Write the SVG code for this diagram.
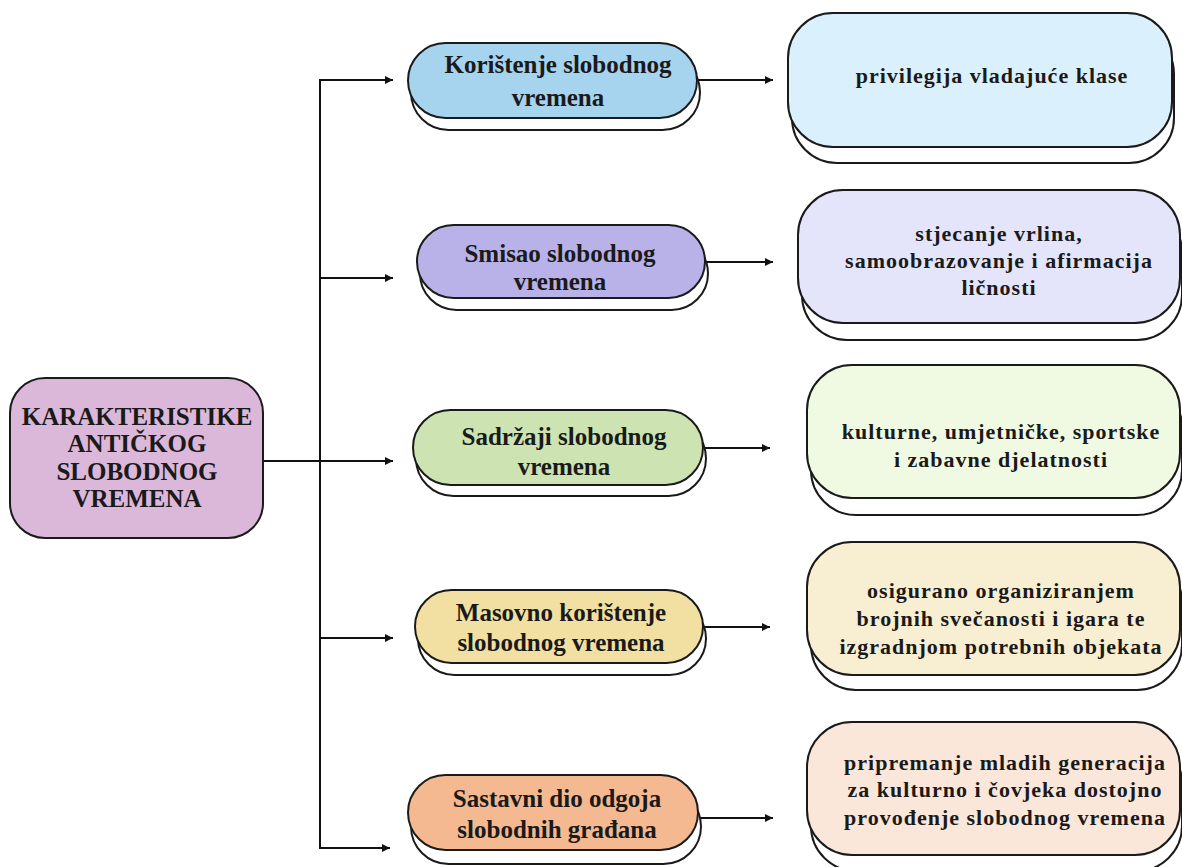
<svg xmlns="http://www.w3.org/2000/svg" width="1182" height="867" viewBox="0 0 1182 867">
<style>
  .box { stroke: #1a1a1a; stroke-width: 2; }
  .shadow { fill: #ffffff; stroke: #1a1a1a; stroke-width: 2; }
  .t { font-family: "Liberation Serif", "Times New Roman", serif; font-weight: bold; fill: #1a1a1a; text-anchor: middle; }
  .tm { font-size: 25px; }
  .tr { font-size: 22px; letter-spacing: 1px; }
  .line { stroke: #111111; stroke-width: 2; fill: none; }
  .arrow { stroke: #111111; stroke-width: 2; fill: none; marker-end: url(#arr); }
</style>
<defs>
  <marker id="arr" viewBox="0 0 10 10" refX="10" refY="5" markerWidth="9" markerHeight="8" markerUnits="userSpaceOnUse" orient="auto">
    <path d="M0,0 L10,5 L0,10 z" fill="#111111"/>
  </marker>
</defs>
<rect width="1182" height="867" fill="#ffffff"/>

<g id="connectors">
  <line class="line" x1="320" y1="80" x2="320" y2="848"/>
  <line class="arrow" x1="263" y1="461" x2="393" y2="461"/>
  <line class="arrow" x1="319" y1="80" x2="393" y2="80"/>
  <line class="arrow" x1="319" y1="278" x2="393" y2="278"/>
  <line class="arrow" x1="319" y1="638" x2="393" y2="638"/>
  <line class="arrow" x1="319" y1="848" x2="390" y2="848"/>
  <line class="arrow" x1="697" y1="80" x2="773" y2="80"/>
  <line class="arrow" x1="705" y1="262" x2="773" y2="262"/>
  <line class="arrow" x1="703" y1="448" x2="770" y2="448"/>
  <line class="arrow" x1="703" y1="627" x2="770" y2="627"/>
  <line class="arrow" x1="698" y1="818" x2="773" y2="818"/>
</g>

<g id="root">
  <rect class="box" x="10" y="378" width="253" height="160" rx="35" ry="35" fill="#dbb8d9"/>
  <text class="t tm" x="137" y="425">KARAKTERISTIKE</text>
  <text class="t tm" x="137" y="452">ANTIČKOG</text>
  <text class="t tm" x="137" y="480">SLOBODNOG</text>
  <text class="t tm" x="137" y="507">VREMENA</text>
</g>

<g id="m1">
  <rect class="shadow" x="411" y="55" width="289" height="75" rx="37.5" ry="37.5"/>
  <rect class="box" x="408" y="43" width="289" height="75" rx="37.5" ry="37.5" fill="#a6d3ee"/>
  <text class="t tm" x="558" y="73">Korištenje slobodnog</text>
  <text class="t tm" x="558" y="106">vremena</text>
</g>

<g id="m2">
  <rect class="shadow" x="420" y="237" width="288" height="73" rx="36.5" ry="36.5"/>
  <rect class="box" x="417" y="225" width="288" height="73" rx="36.5" ry="36.5" fill="#b9b2e8"/>
  <text class="t tm" x="560" y="262">Smisao slobodnog</text>
  <text class="t tm" x="560" y="290">vremena</text>
</g>

<g id="m3">
  <rect class="shadow" x="416" y="421" width="290" height="75" rx="37.5" ry="37.5"/>
  <rect class="box" x="413" y="410" width="290" height="75" rx="37.5" ry="37.5" fill="#cde4b2"/>
  <text class="t tm" x="564" y="445">Sadržaji slobodnog</text>
  <text class="t tm" x="564" y="475">vremena</text>
</g>

<g id="m4">
  <rect class="shadow" x="418" y="602" width="288" height="73" rx="36.5" ry="36.5"/>
  <rect class="box" x="415" y="590" width="288" height="73" rx="36.5" ry="36.5" fill="#f2e0a2"/>
  <text class="t tm" x="561" y="621">Masovno korištenje</text>
  <text class="t tm" x="561" y="651">slobodnog vremena</text>
</g>

<g id="m5">
  <rect class="shadow" x="411" y="789" width="290" height="75" rx="37.5" ry="37.5"/>
  <rect class="box" x="408" y="775" width="290" height="75" rx="37.5" ry="37.5" fill="#f4b990"/>
  <text class="t tm" x="557" y="807">Sastavni dio odgoja</text>
  <text class="t tm" x="557" y="838">slobodnih građana</text>
</g>

<g id="r1">
  <rect class="shadow" x="792" y="29" width="382" height="134" rx="45" ry="45"/>
  <rect class="box" x="788" y="13" width="384" height="134" rx="45" ry="45" fill="#daf0fd"/>
  <text class="t tr" x="992" y="83">privilegija vladajuće klase</text>
</g>

<g id="r2">
  <rect class="shadow" x="802" y="207" width="380" height="133" rx="45" ry="45"/>
  <rect class="box" x="798" y="190" width="382" height="133" rx="45" ry="45" fill="#e4e4fa"/>
  <text class="t tr" x="999" y="241">stjecanje vrlina,</text>
  <text class="t tr" x="999" y="268">samoobrazovanje i afirmacija</text>
  <text class="t tr" x="999" y="295">ličnosti</text>
</g>

<g id="r3">
  <rect class="shadow" x="811" y="382" width="371" height="133" rx="45" ry="45"/>
  <rect class="box" x="807" y="365" width="373" height="133" rx="45" ry="45" fill="#f0f9e2"/>
  <text class="t tr" x="1001" y="439">kulturne, umjetničke, sportske</text>
  <text class="t tr" x="1001" y="467">i zabavne djelatnosti</text>
</g>

<g id="r4">
  <rect class="shadow" x="811" y="557" width="371" height="133" rx="45" ry="45"/>
  <rect class="box" x="807" y="542" width="373" height="133" rx="45" ry="45" fill="#f8eed2"/>
  <text class="t tr" x="1001" y="598">osigurano organiziranjem</text>
  <text class="t tr" x="1001" y="626">brojnih svečanosti i igara te</text>
  <text class="t tr" x="1001" y="654">izgradnjom potrebnih objekata</text>
</g>

<g id="r5">
  <rect class="shadow" x="811" y="738" width="371" height="133" rx="45" ry="45"/>
  <rect class="box" x="807" y="722" width="373" height="133" rx="45" ry="45" fill="#fbe7da"/>
  <text class="t tr" x="1005" y="770">pripremanje mladih generacija</text>
  <text class="t tr" x="1005" y="797">za kulturno i čovjeka dostojno</text>
  <text class="t tr" x="1005" y="825">provođenje slobodnog vremena</text>
</g>
</svg>
